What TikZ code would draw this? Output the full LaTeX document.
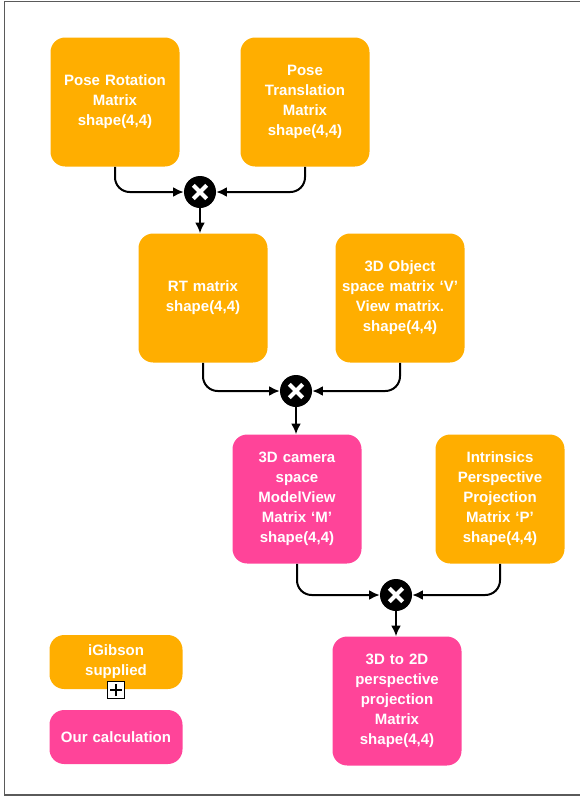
\documentclass[tikz,border=0pt]{standalone}
\usepackage{fontspec}
\setmainfont{Liberation Sans}
\usepackage{tikz}
\usetikzlibrary{arrows.meta,positioning,calc}
\definecolor{igorange}{HTML}{FFAE00}
\definecolor{ourpink}{HTML}{FF4499}
\definecolor{framegray}{HTML}{5A5A5A}
\tikzset{>={Latex[length=8pt,width=7.5pt]}}
\tikzset{
  % matrices supplied by iGibson
  given/.style={fill=igorange, rounded corners=11pt, text=white, align=center,
    font=\bfseries\fontsize{11.25pt}{15pt}\selectfont,
    minimum width=96.75pt, minimum height=96.75pt, text width=90pt, inner sep=0pt},
  % matrices we compute
  ours/.style={given, fill=ourpink},
  legend/.style={given, minimum width=99.75pt, minimum height=40.5pt, text width=95pt},
  % multiplication node
  times/.style={circle, fill=black, minimum size=24pt, inner sep=0pt,
    path picture={
      \draw[white, line width=3pt]
        ($(path picture bounding box.center)+(-5pt,-5pt)$) -- ($(path picture bounding box.center)+(5pt,5pt)$)
        ($(path picture bounding box.center)+(-5pt,5pt)$) -- ($(path picture bounding box.center)+(5pt,-5pt)$);
    }},
  conn/.style={->, line width=1.5pt, rounded corners=11pt},
}

\begin{document}
\begin{tikzpicture}[x=0.75pt, y=-0.75pt]
  \useasboundingbox (0,0) rectangle (579,797);
  \draw[framegray, line width=1.4pt] (590,1.5) -- (4.5,1.5) -- (4.5,795) -- (590,795);

  \node[given] (rot) at (115,102) {Pose Rotation\\Matrix\\shape(4,4)};
  \node[given] (trans) at (305,102) {Pose\\Translation\\Matrix\\shape(4,4)};
  \node[times] (c1) at (200,192) {};

  \node[given] (rt) at (203,298) {RT matrix\\shape(4,4)};
  \node[given] (view) at (400,298) {3D Object\\space matrix ‘V’\\View matrix.\\shape(4,4)};
  \node[times] (c2) at (296,391) {};

  \node[ours] (mv) at (297,499) {3D camera\\space\\ModelView\\Matrix ‘M’\\shape(4,4)};
  \node[given] (proj) at (500,499) {Intrinsics\\Perspective\\Projection\\Matrix ‘P’\\shape(4,4)};
  \node[times] (c3) at (396,595) {};

  \node[ours] (mvp) at (397,701) {3D to 2D\\perspective\\projection\\Matrix\\shape(4,4)};

  % legend
  \node[legend] (supplied) at (116,662) {iGibson\\supplied};
  \node[legend, fill=ourpink] (calc) at (116,737) {Our calculation};
  \node[draw=black, fill=white, line width=0.8pt, minimum size=12.5pt, inner sep=0pt,
    path picture={
      \draw[line width=0.8pt] ($(path picture bounding box.center)+(-4.5pt,0)$) -- ($(path picture bounding box.center)+(4.5pt,0)$)
        ($(path picture bounding box.center)+(0,-4.5pt)$) -- ($(path picture bounding box.center)+(0,4.5pt)$);
    }] (plus) at (116,690) {};

  \draw[conn] (rot.south) |- (c1.west);
  \draw[conn] (trans.south) |- (c1.east);
  \draw[conn] (c1.south) -- (c1.south |- rt.north);

  \draw[conn] (rt.south) |- (c2.west);
  \draw[conn] (view.south) |- (c2.east);
  \draw[conn] (c2.south) -- (c2.south |- mv.north);

  \draw[conn] (mv.south) |- (c3.west);
  \draw[conn] (proj.south) |- (c3.east);
  \draw[conn] (c3.south) -- (c3.south |- mvp.north);
\end{tikzpicture}
\end{document}
